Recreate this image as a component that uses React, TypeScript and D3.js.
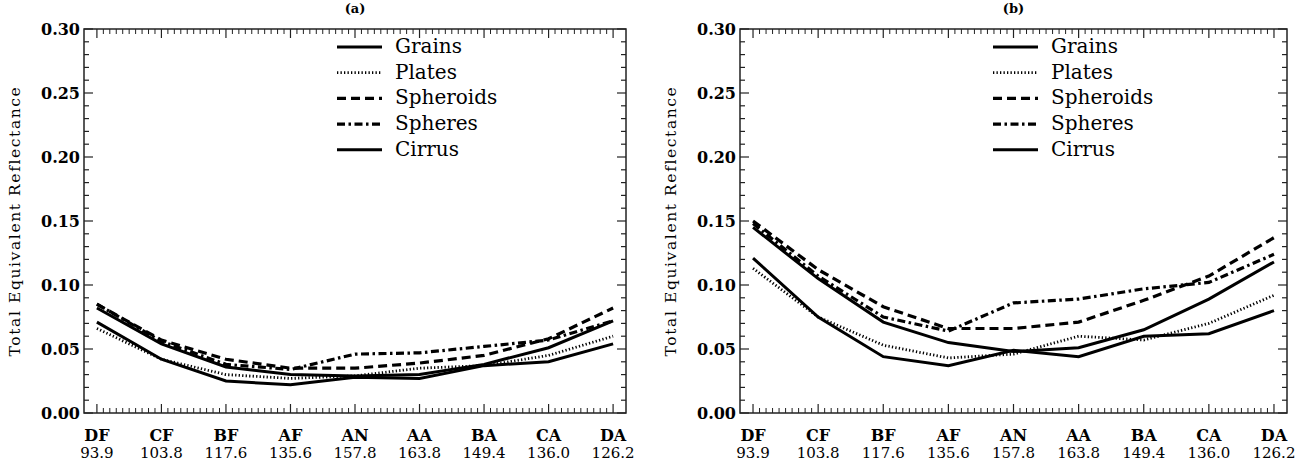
import React from "react";
import * as d3 from "d3";

const categories = ["DF", "CF", "BF", "AF", "AN", "AA", "BA", "CA", "DA"];
const angles = ["93.9", "103.8", "117.6", "135.6", "157.8", "163.8", "149.4", "136.0", "126.2"];
const yTicks = [0, 0.05, 0.1, 0.15, 0.2, 0.25, 0.3];
const seriesNames = ["Grains", "Plates", "Spheroids", "Spheres", "Cirrus"];

const grainsA = [0.082, 0.054, 0.036, 0.030, 0.029, 0.030, 0.038, 0.051, 0.072];
const platesA = [0.066, 0.042, 0.030, 0.027, 0.029, 0.035, 0.037, 0.045, 0.060];
const spheroidsA = [0.085, 0.057, 0.042, 0.035, 0.035, 0.039, 0.045, 0.058, 0.082];
const spheresA = [0.085, 0.056, 0.038, 0.034, 0.046, 0.047, 0.052, 0.057, 0.072];
const cirrusA = [0.071, 0.042, 0.025, 0.022, 0.028, 0.027, 0.037, 0.040, 0.054];

const grainsB = [0.145, 0.105, 0.071, 0.055, 0.048, 0.051, 0.065, 0.089, 0.118];
const platesB = [0.113, 0.075, 0.053, 0.043, 0.046, 0.060, 0.057, 0.070, 0.092];
const spheroidsB = [0.150, 0.112, 0.083, 0.066, 0.066, 0.071, 0.088, 0.107, 0.137];
const spheresB = [0.148, 0.107, 0.075, 0.064, 0.086, 0.089, 0.097, 0.102, 0.124];
const cirrusB = [0.121, 0.075, 0.044, 0.037, 0.049, 0.044, 0.060, 0.062, 0.080];

const styles = [
  { dash: "none", w: 3 },
  { dash: "1.3,2.2", w: 2.8 },
  { dash: "9,5", w: 3.2 },
  { dash: "8,3.5,2.5,3.5", w: 3.2 },
  { dash: "none", w: 3 },
];

const W = 1303;
const H = 461;
const TOP = 29;
const BOTTOM = 413;
const serif = "'DejaVu Serif', 'Liberation Serif', serif";

function Panel({ left, right, title, data }: { left: number; right: number; title: string; data: number[][] }) {
  const x = d3.scaleLinear().domain([-0.2, 8.2]).range([left, right]);
  const y = d3.scaleLinear().domain([0, 0.3]).range([BOTTOM, TOP]);
  const line = d3
    .line<number>()
    .x((_, i) => x(i))
    .y((v) => y(v));
  const minorY = d3.range(0, 0.3001, 0.01);
  const minorX: number[] = [];
  for (let i = 0; i < 8; i++) for (let k = 1; k < 10; k++) minorX.push(i + k / 10);
  const legX = left + 253;
  const legY0 = 47;
  const legDy = 25.7;
  return (
    <g>
      <text x={(left + right) / 2} y={13} textAnchor="middle" fontFamily={serif} fontWeight="bold" fontSize={13}>
        {title}
      </text>
      <defs>
        <clipPath id={"clip" + title}>
          <rect x={left} y={TOP} width={right - left} height={BOTTOM - TOP} />
        </clipPath>
      </defs>
      <rect x={left} y={TOP} width={right - left} height={BOTTOM - TOP} fill="none" stroke="#222" strokeWidth={1.5} />
      {minorY.map((v, i) => {
        const major = i % 5 === 0;
        const len = major ? 9 : 5;
        return (
          <g key={"y" + i}>
            <line x1={left} x2={left + len} y1={y(v)} y2={y(v)} stroke="#222" strokeWidth={1.2} />
            <line x1={right} x2={right - len} y1={y(v)} y2={y(v)} stroke="#222" strokeWidth={1.2} />
          </g>
        );
      })}
      {categories.map((c, i) => (
        <g key={"xm" + c}>
          <line x1={x(i)} x2={x(i)} y1={BOTTOM} y2={BOTTOM - 9} stroke="#222" strokeWidth={1.2} />
          <line x1={x(i)} x2={x(i)} y1={TOP} y2={TOP + 9} stroke="#222" strokeWidth={1.2} />
        </g>
      ))}
      {minorX.map((v, i) => (
        <g key={"xn" + i}>
          <line x1={x(v)} x2={x(v)} y1={BOTTOM} y2={BOTTOM - 5} stroke="#222" strokeWidth={1} />
          <line x1={x(v)} x2={x(v)} y1={TOP} y2={TOP + 5} stroke="#222" strokeWidth={1} />
        </g>
      ))}
      {yTicks.map((v) => (
        <text key={"yl" + v} x={left - 4} y={y(v) + 6} textAnchor="end" fontFamily={serif} fontWeight="bold" fontSize={16}>
          {v.toFixed(2)}
        </text>
      ))}
      {categories.map((c, i) => (
        <g key={"xl" + c}>
          <text x={x(i)} y={441} textAnchor="middle" fontFamily={serif} fontWeight="bold" fontSize={16}>
            {c}
          </text>
          <text x={x(i)} y={458} textAnchor="middle" fontFamily={serif} fontSize={15}>
            {angles[i]}
          </text>
        </g>
      ))}
      <text
        transform={`translate(${left - 64},${(TOP + BOTTOM) / 2}) rotate(-90)`}
        textAnchor="middle"
        fontFamily={serif}
        fontSize={15.5}
        letterSpacing={1.6}
      >
        Total Equivalent Reflectance
      </text>
      <g clipPath={`url(#clip${title})`}>
        {data.map((s, k) => (
          <path
            key={"s" + k}
            d={line(s) || ""}
            fill="none"
            stroke="#000"
            strokeWidth={styles[k].w}
            strokeDasharray={styles[k].dash}
          />
        ))}
      </g>
      {seriesNames.map((n, k) => (
        <g key={"lg" + n}>
          <line
            x1={legX}
            x2={legX + 45}
            y1={legY0 + k * legDy}
            y2={legY0 + k * legDy}
            stroke="#000"
            strokeWidth={styles[k].w}
            strokeDasharray={styles[k].dash}
          />
          <text x={legX + 58} y={legY0 + k * legDy + 6} fontFamily={serif} fontSize={20}>
            {n}
          </text>
        </g>
      ))}
    </g>
  );
}

export default function App() {
  return (
    <svg width={W} height={H} style={{ position: "absolute", left: 0, top: 0, background: "#fff" }}>
      <rect x={0} y={0} width={W} height={H} fill="#fff" />
      <Panel left={84} right={626} title="(a)" data={[grainsA, platesA, spheroidsA, spheresA, cirrusA]} />
      <Panel left={740} right={1287} title="(b)" data={[grainsB, platesB, spheroidsB, spheresB, cirrusB]} />
    </svg>
  );
}
